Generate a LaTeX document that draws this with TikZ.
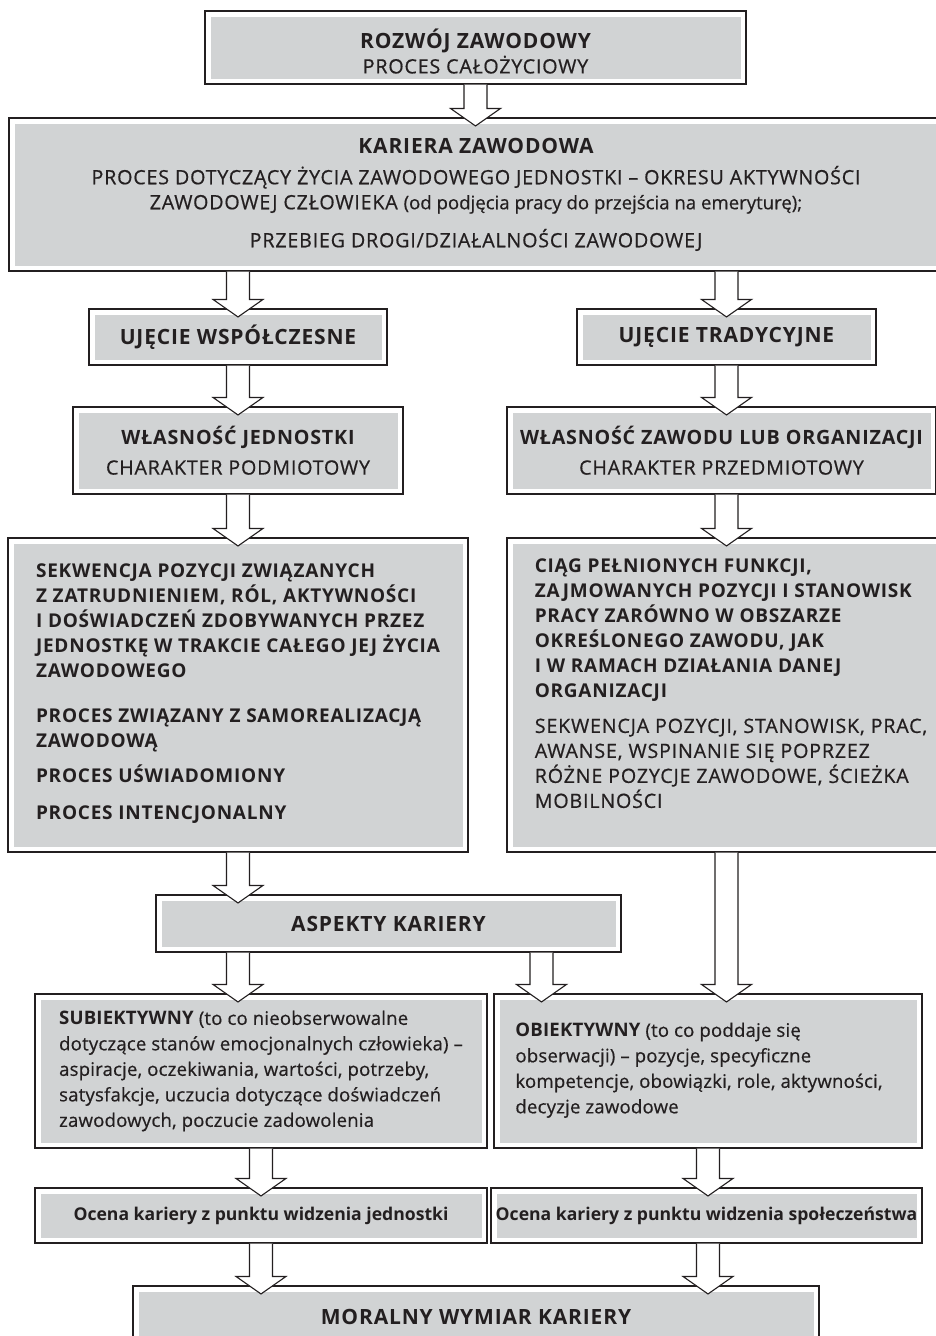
\documentclass[tikz,border=0pt]{standalone}
\usepackage{fontspec}
\setmainfont{Open Sans}[LetterSpace=4, UprightFeatures={FakeBold=0.6}]
\newfontfamily\mixedfont{Open Sans}[LetterSpace=1, UprightFeatures={FakeBold=0.5}]
\newfontfamily\plainfont{Open Sans}[UprightFeatures={FakeBold=0.5}]
\usetikzlibrary{calc}

\definecolor{ink}{HTML}{231F20}
\definecolor{cardgray}{HTML}{D1D3D4}

\tikzset{
  card/.style={rectangle, draw=ink, line width=1.1pt, fill=white, inner sep=0pt,
    text=ink, align=center, font=\fontsize{19.7}{25}\selectfont,
    path picture={\fill[cardgray]
      ($(path picture bounding box.north west)+(5.5pt,-5.5pt)$) rectangle
      ($(path picture bounding box.south east)+(-5.5pt,5.5pt)$);}},
  boldcard/.style={card, align=left, font=\fontsize{19}{25}\selectfont\bfseries},
  mixedcard/.style={card, align=left, font=\mixedfont\fontsize{18.6}{25.5}\selectfont},
  ratingcard/.style={card, font=\plainfont\fontsize{17.6}{25}\selectfont\bfseries},
  flow/.style={draw=ink, line width=1.1pt, fill=white, line join=miter},
}
\newcommand\headline[1]{{\fontsize{21}{25}\selectfont\bfseries #1}}

% hollow block arrow at horizontal position #1, from node #2 down to node #3
\newcommand\flowarrow[3]{%
  \path[flow] let \p1=(#2.south), \p2=(#3.north) in
    ({#1pt-11.5pt},\y1) -- ({#1pt-11.5pt},{\y2+9pt}) -- ({#1pt-25pt},{\y2+9pt})
    -- ({#1pt},{\y2-8.5pt}) -- ({#1pt+25pt},{\y2+9pt}) -- ({#1pt+11.5pt},{\y2+9pt})
    -- ({#1pt+11.5pt},\y1);
}

\begin{document}
\begin{tikzpicture}[x=1pt,y=-1pt]
\useasboundingbox (0,0) rectangle (936,1336);
\fill[white] (0,0) rectangle (936,1336);
\clip (0,0) rectangle (936,1336);

\node[card, minimum width=541pt, minimum height=73pt] (rozwoj) at (475.5,47.5)
  {\rule{0pt}{27pt}\headline{ROZWÓJ ZAWODOWY}\\PROCES CAŁOŻYCIOWY};

\node[card, minimum width=934pt, minimum height=153pt] (kariera) at (476,194.5)
  {\headline{KARIERA ZAWODOWA}\\[6pt]
   PROCES DOTYCZĄCY ŻYCIA ZAWODOWEGO JEDNOSTKI – OKRESU AKTYWNOŚCI\\
   ZAWODOWEJ CZŁOWIEKA {\plainfont\fontsize{18.6}{25}\selectfont(od podjęcia pracy do przejścia na emeryturę);}\\[13pt]
   PRZEBIEG DROGI/DZIAŁALNOŚCI ZAWODOWEJ};

\node[card, minimum width=298pt, minimum height=56pt] (ujW) at (238,337)
  {\headline{UJĘCIE WSPÓŁCZESNE}};
\node[card, minimum width=299pt, minimum height=56pt] (ujT) at (726.5,337)
  {\headline{UJĘCIE TRADYCYJNE}};

\node[card, minimum width=330pt, minimum height=87pt] (wlJ) at (238,450.5)
  {{\bfseries WŁASNOŚĆ JEDNOSTKI}\\[5pt]CHARAKTER PODMIOTOWY};
\node[card, minimum width=429pt, minimum height=87pt] (wlZ) at (721.5,450.5)
  {{\bfseries WŁASNOŚĆ ZAWODU LUB ORGANIZACJI}\\[5pt]CHARAKTER PRZEDMIOTOWY};

\node[boldcard, minimum width=460pt, minimum height=314pt] (sekw) at (238,695)
  {SEKWENCJA POZYCJI ZWIĄZANYCH\\
   Z ZATRUDNIENIEM, RÓL, AKTYWNOŚCI\\
   I DOŚWIADCZEŃ ZDOBYWANYCH PRZEZ\\
   JEDNOSTKĘ W TRAKCIE CAŁEGO JEJ ŻYCIA\\
   ZAWODOWEGO\\[20pt]
   PROCES ZWIĄZANY Z SAMOREALIZACJĄ\\
   ZAWODOWĄ\\[10pt]
   PROCES UŚWIADOMIONY\\[12pt]
   PROCES INTENCJONALNY\rule[-7pt]{0pt}{0pt}};

\node[boldcard, minimum width=448pt, minimum height=314pt] (ciag) at (731,695)
  {CIĄG PEŁNIONYCH FUNKCJI,\\
   ZAJMOWANYCH POZYCJI I STANOWISK\\
   PRACY ZARÓWNO W OBSZARZE\\
   OKREŚLONEGO ZAWODU, JAK\\
   I W RAMACH DZIAŁANIA DANEJ\\
   ORGANIZACJI\\[10pt]
   \mdseries\fontsize{19.7}{25}\selectfont SEKWENCJA POZYCJI, STANOWISK, PRAC,\\
   \mdseries\fontsize{19.7}{25}\selectfont AWANSE, WSPINANIE SIĘ POPRZEZ\\
   \mdseries\fontsize{19.7}{25}\selectfont RÓŻNE POZYCJE ZAWODOWE, ŚCIEŻKA\\
   \mdseries\fontsize{19.7}{25}\selectfont MOBILNOŚCI\rule[-23pt]{0pt}{0pt}};

\node[card, minimum width=465pt, minimum height=57pt] (aspekty) at (388.5,923.5)
  {\headline{ASPEKTY KARIERY}};

\node[mixedcard, minimum width=452pt, minimum height=154pt] (subj) at (261,1071)
  {{\bfseries SUBIEKTYWNY} (to co nieobserwowalne\\
   dotyczące stanów emocjonalnych człowieka) –\\
   aspiracje, oczekiwania, wartości, potrzeby,\\
   satysfakcje, uczucia dotyczące doświadczeń\\
   zawodowych, poczucie zadowolenia};
\node[mixedcard, minimum width=428pt, minimum height=154pt] (obj) at (708,1071)
  {{\bfseries OBIEKTYWNY} (to co poddaje się\\
   obserwacji) – pozycje, specyficzne\\
   kompetencje, obowiązki, role, aktywności,\rule{18pt}{0pt}\\
   decyzje zawodowe\rule[-6pt]{0pt}{0pt}};

\node[ratingcard, minimum width=452pt, minimum height=55pt] (ocenaJ) at (261,1215.5)
  {Ocena kariery z punktu widzenia jednostki};
\node[ratingcard, minimum width=431pt, minimum height=55pt] (ocenaS) at (706.5,1215.5)
  {Ocena kariery z punktu widzenia społeczeństwa};

\node[card, minimum width=686pt, minimum height=62pt] (moral) at (476,1317)
  {\headline{MORALNY WYMIAR KARIERY}};

% connectors
\flowarrow{475.5}{rozwoj}{kariera}
\flowarrow{238}{kariera}{ujW}
\flowarrow{726.5}{kariera}{ujT}
\flowarrow{238}{ujW}{wlJ}
\flowarrow{726.5}{ujT}{wlZ}
\flowarrow{238}{wlJ}{sekw}
\flowarrow{726.5}{wlZ}{ciag}
\flowarrow{238}{sekw}{aspekty}
\flowarrow{238}{aspekty}{subj}
\flowarrow{541.5}{aspekty}{obj}
\flowarrow{726.5}{ciag}{obj}
\flowarrow{261}{subj}{ocenaJ}
\flowarrow{708}{obj}{ocenaS}
\flowarrow{261}{ocenaJ}{moral}
\flowarrow{708}{ocenaS}{moral}
\end{tikzpicture}
\end{document}
